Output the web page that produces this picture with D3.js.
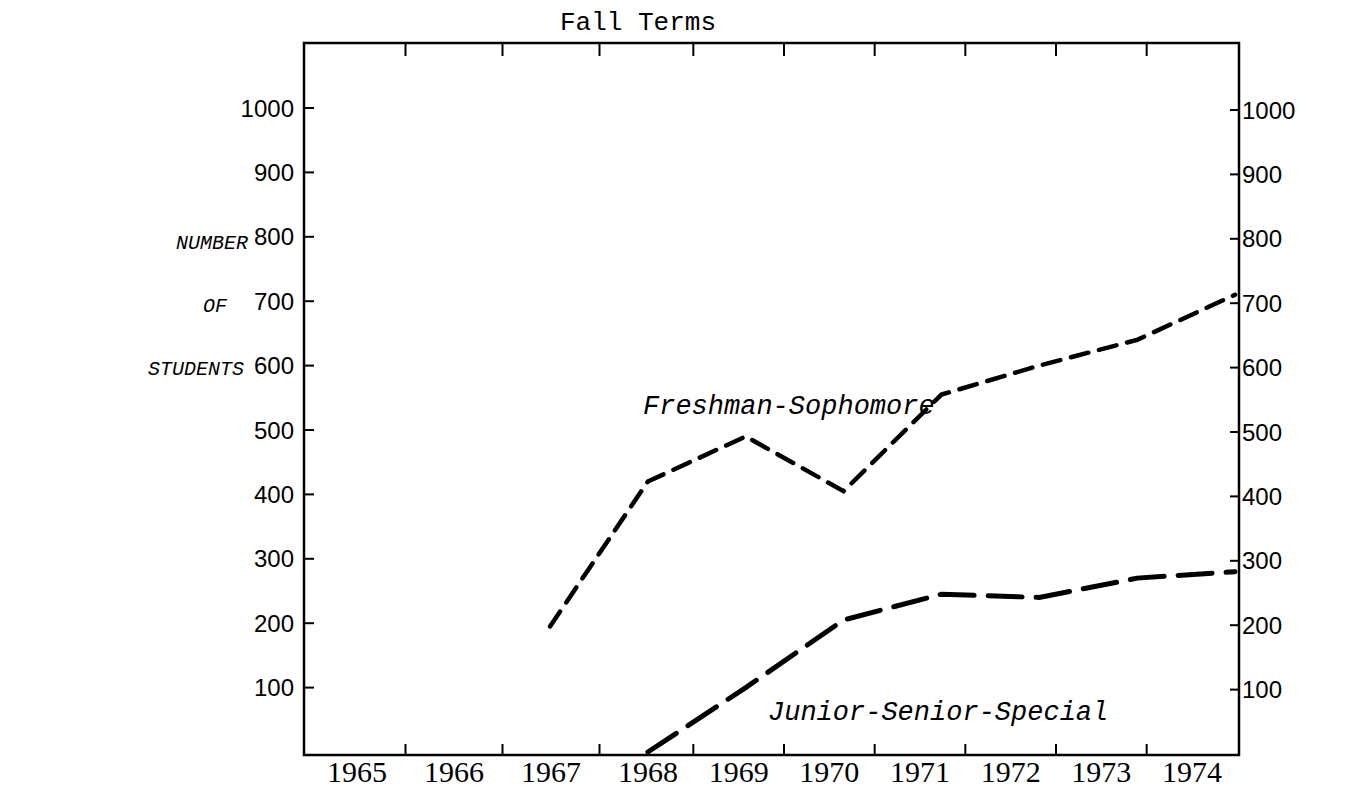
<!DOCTYPE html>
<html>
<head>
<meta charset="utf-8">
<script src="https://cdn.jsdelivr.net/npm/d3@7"></script>
<style>
  body { margin: 0; background: #fff; }
  svg { display: block; }
</style>
</head>
<body>
<div id="chart"></div>
<script>
// Data (fall terms)
var years = [1965, 1966, 1967, 1968, 1969, 1970, 1971, 1972, 1973, 1974];
var yTicks = [100, 200, 300, 400, 500, 600, 700, 800, 900, 1000];
var freshYears = [1967, 1968, 1969, 1970, 1971, 1972, 1973, 1974];
var freshValues = [195, 420, 490, 405, 555, 600, 640, 710];
var juniorYears = [1968, 1969, 1970, 1971, 1972, 1973, 1974];
var juniorValues = [0, 100, 205, 245, 240, 270, 280];
var yTitle = ["NUMBER", "OF", "STUDENTS"];

(function(){

    var width = 1361;
    var height = 794;
    var frame = {left: 304, right: 1239, top: 43, bottom: 755};

    var svg = d3.select("#chart").append("svg")
        .attr("width", width)
        .attr("height", height);

    //Scales: labels and ticks on the axis, and a second one for the plotted points
    //(the original was drawn by hand, the year spacing is not even)
    var xAxis = d3.scaleLinear().domain([1965, 1968, 1974]).range([357, 648, 1192]);
    var xData = d3.scaleLinear().domain([1967, 1974]).range([550, 1235]);
    var y = d3.scaleLinear().domain([0, 1000]).range([752, 108]);

    var mono = "'Liberation Mono', 'Courier New', monospace";

    //Frame
    svg.append("rect")
        .attr("x", frame.left)
        .attr("y", frame.top)
        .attr("width", frame.right - frame.left)
        .attr("height", frame.bottom - frame.top)
        .style("fill", "none")
        .style("stroke", "black")
        .style("stroke-width", 2.5);

    //Ticks between the years, top and bottom
    var mids = years.slice(0, -1).map(function(d){ return d + 0.5; });
    svg.append("g").selectAll("line")
        .data(mids).enter().append("line")
        .attr("x1", function(d){ return xAxis(d); })
        .attr("x2", function(d){ return xAxis(d); })
        .attr("y1", frame.top)
        .attr("y2", frame.top + 13)
        .style("stroke", "black")
        .style("stroke-width", 2);
    svg.append("g").selectAll("line")
        .data(mids).enter().append("line")
        .attr("x1", function(d){ return xAxis(d); })
        .attr("x2", function(d){ return xAxis(d); })
        .attr("y1", frame.bottom)
        .attr("y2", frame.bottom - 11)
        .style("stroke", "black")
        .style("stroke-width", 2);

    //Year labels
    svg.append("g").selectAll("text")
        .data(years).enter().append("text")
        .attr("x", function(d){ return xAxis(d); })
        .attr("y", 782)
        .attr("text-anchor", "middle")
        .attr("font-family", "'Liberation Serif', 'Times New Roman', serif")
        .attr("font-size", "30px")
        .attr("fill", "black")
        .text(function(d){ return d; });

    //Left axis ticks + labels
    svg.append("g").selectAll("line")
        .data(yTicks).enter().append("line")
        .attr("x1", frame.left)
        .attr("x2", frame.left + 10)
        .attr("y1", function(d){ return y(d); })
        .attr("y2", function(d){ return y(d); })
        .style("stroke", "black")
        .style("stroke-width", 2);
    svg.append("g").selectAll("text")
        .data(yTicks).enter().append("text")
        .attr("x", 294)
        .attr("y", function(d){ return y(d); })
        .attr("dy", "0.36em")
        .attr("text-anchor", "end")
        .attr("font-family", "'Liberation Sans', Arial, sans-serif")
        .attr("font-size", "24px")
        .attr("fill", "black")
        .text(function(d){ return d; });

    //Right axis ticks + labels
    svg.append("g").selectAll("line")
        .data(yTicks).enter().append("line")
        .attr("x1", frame.right)
        .attr("x2", frame.right - 9)
        .attr("y1", function(d){ return y(d) + 2; })
        .attr("y2", function(d){ return y(d) + 2; })
        .style("stroke", "black")
        .style("stroke-width", 2);
    svg.append("g").selectAll("text")
        .data(yTicks).enter().append("text")
        .attr("x", frame.right + 3)
        .attr("y", function(d){ return y(d) + 2; })
        .attr("dy", "0.36em")
        .attr("text-anchor", "start")
        .attr("font-family", "'Liberation Sans', Arial, sans-serif")
        .attr("font-size", "24px")
        .attr("fill", "black")
        .text(function(d){ return d; });

    //Lines
    var fresh = freshYears.map(function(d, i){ return {year: d, value: freshValues[i]}; });
    var junior = juniorYears.map(function(d, i){ return {year: d, value: juniorValues[i]}; });

    var line = d3.line()
        .x(function(d){ return xData(d.year); })
        .y(function(d){ return y(d.value); });

    svg.append("path")
        .datum(fresh)
        .attr("d", line)
        .style("fill", "none")
        .style("stroke", "black")
        .style("stroke-width", 4.5)
        .style("stroke-linecap", "round")
        .style("stroke-dasharray", "18,11");

    svg.append("path")
        .datum(junior)
        .attr("d", line)
        .style("fill", "none")
        .style("stroke", "black")
        .style("stroke-width", 5)
        .style("stroke-linecap", "round")
        .style("stroke-dasharray", "34,14");

    //Texts
    svg.append("text")
        .attr("x", 560)
        .attr("y", 30)
        .attr("font-family", mono)
        .attr("font-size", "26px")
        .attr("fill", "black")
        .text("Fall Terms");

    //y title words, each one hand-placed in the original
    var titleX = [176, 203, 148];
    svg.append("g").selectAll("text")
        .data(yTitle).enter().append("text")
        .attr("x", function(d, i){ return titleX[i]; })
        .attr("y", function(d, i){ return 249 + i * 63; })
        .attr("font-family", mono)
        .attr("font-style", "italic")
        .attr("font-size", "20px")
        .attr("fill", "black")
        .text(function(d){ return d; });

    svg.append("text")
        .attr("x", 643)
        .attr("y", 414)
        .attr("font-family", mono)
        .attr("font-style", "italic")
        .attr("font-size", "27px")
        .attr("fill", "black")
        .text("Freshman-Sophomore");

    svg.append("text")
        .attr("x", 768)
        .attr("y", 720)
        .attr("font-family", mono)
        .attr("font-style", "italic")
        .attr("font-size", "27px")
        .attr("fill", "black")
        .text("Junior-Senior-Special");

})();
</script>
</body>
</html>
